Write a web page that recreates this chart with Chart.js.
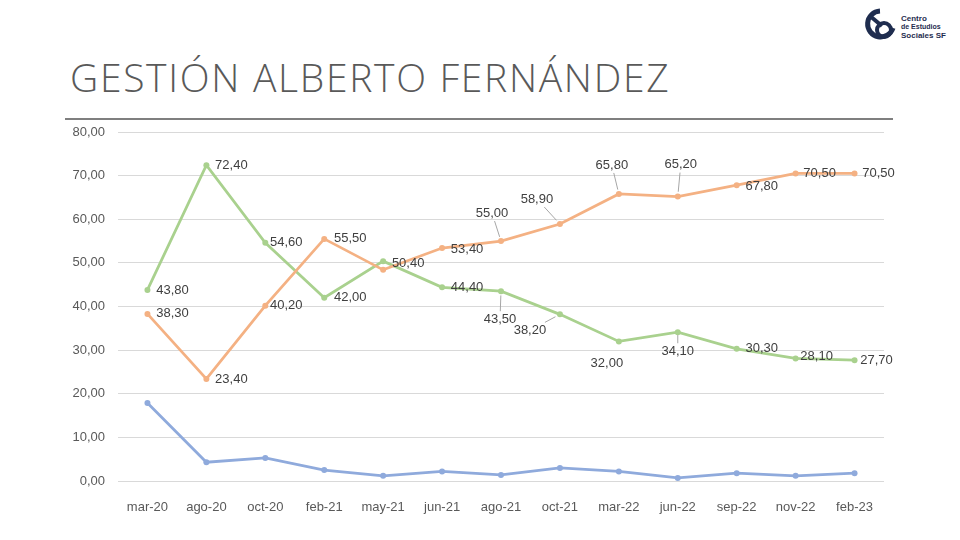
<!DOCTYPE html>
<html>
<head>
<meta charset="utf-8">
<script src="https://cdn.jsdelivr.net/npm/chart.js@4"></script>
<style>
  body{margin:0;background:#fff;width:960px;height:540px;overflow:hidden;position:relative;font-family:"Liberation Sans",sans-serif}
  #titulo{position:absolute;left:70px;top:50px;font-family:"Open Sans",sans-serif;font-weight:300;font-size:39px;color:#595959;letter-spacing:1.7px;white-space:nowrap}
  #linea{position:absolute;left:65px;top:118px;width:828px;height:2px;background:#7f7f7f}
  #logo{position:absolute;left:864px;top:8px}
  #wrap{position:absolute;left:0;top:0;width:960px;height:540px}
</style>
</head>
<body>
<div id="titulo">GESTIÓN ALBERTO FERNÁNDEZ</div>
<div id="linea"></div>
<svg id="logo" width="90" height="38" viewBox="0 0 90 38">
  <path d="M16 3 A13 13 0 1 0 29 20" fill="none" stroke="#1f2d4f" stroke-width="5"/>
  <path d="M6 8 L18 18" stroke="#1f2d4f" stroke-width="4"/>
  <circle cx="20" cy="22" r="7" fill="none" stroke="#1f2d4f" stroke-width="4"/>
  <text x="37" y="13" font-size="8" font-weight="bold" fill="#1f2d4f" font-family="Liberation Sans">Centro</text>
  <text x="37" y="21" font-size="7" font-weight="bold" fill="#1f2d4f" font-family="Liberation Sans">de Estudios</text>
  <text x="37" y="30" font-size="8" font-weight="bold" fill="#1f2d4f" font-family="Liberation Sans">Sociales SF</text>
</svg>
<div id="wrap"><canvas id="grafico"></canvas></div>
<script>
// datos
const meses = ['mar-20','ago-20','oct-20','feb-21','may-21','jun-21','ago-21','oct-21','mar-22','jun-22','sep-22','nov-22','feb-23']
const serieVerde = [43.8,72.4,54.6,42.0,50.4,44.4,43.5,38.2,32.0,34.1,30.3,28.1,27.7]
const serieNaranja = [38.3,23.4,40.2,55.5,48.4,53.4,55.0,58.9,65.8,65.2,67.8,70.5,70.5]
const serieAzul = [17.9,4.3,5.3,2.5,1.2,2.2,1.4,3.0,2.2,0.7,1.8,1.2,1.8]
const ticksY = [0,10,20,30,40,50,60,70,80]

// posicion de las etiquetas [dx, dy, lineaGuia] relativa al punto
const posVerde = [[25,0],[25,0],[21,0],[26,0],[25,2],[25,0],[-1,28,1],[-30,16,1],[-12,22],[0,19,1],[25,0],[21,-2],[22,0]]
const posNaranja = [[25,0],[25,1],[21,0],[26,0],null,[25,1],[-9,-28,1],[-23,-25,1],[-7,-29,1],[3,-32,1],[25,1],[24,0],[24,0]]

const fmt = v => v.toFixed(2).replace('.', ',')

// plugin para dibujar las etiquetas de datos
const etiquetas = {
  id:'etiquetas',
  afterDatasetsDraw(chart){
    const ctx = chart.ctx
    ctx.save()
    ctx.font = '13px "Liberation Sans"'
    ctx.textAlign = 'center'
    ctx.textBaseline = 'middle'
    chart.data.datasets.forEach((ds, i) => {
      if(!ds.pos) return
      const meta = chart.getDatasetMeta(i)
      meta.data.forEach((pt, j) => {
        const p = ds.pos[j]
        if(!p) return
        const lx = pt.x + p[0], ly = pt.y + p[1]
        if(p[2]){
          // linea guia hasta el borde del texto
          const hw = 18, hh = 8
          const dx = lx - pt.x, dy = ly - pt.y
          const kk = Math.max(Math.abs(dx) > hw ? 1 - hw/Math.abs(dx) : 0, Math.abs(dy) > hh ? 1 - hh/Math.abs(dy) : 0)
          ctx.strokeStyle = '#a6a6a6'
          ctx.lineWidth = 1
          ctx.beginPath()
          ctx.moveTo(pt.x + dx*0.15, pt.y + dy*0.15)
          ctx.lineTo(pt.x + dx*kk, pt.y + dy*kk)
          ctx.stroke()
        }
        ctx.fillStyle = '#404040'
        ctx.fillText(fmt(ds.data[j]), lx, ly)
      })
    })
    ctx.restore()
  }
}

function serie(datos, color, pos){
  return {
    data:datos,
    borderColor:color,
    backgroundColor:color,
    borderWidth:2.75,
    pointRadius:3,
    pointBorderWidth:0,
    pointBackgroundColor:color,
    tension:0,
    pos:pos
  }
}

const chart = new Chart(document.getElementById('grafico'), {
  type:'line',
  data:{
    labels:meses,
    datasets:[
      serie(serieAzul, '#8faadc', null),
      serie(serieNaranja, '#f4b183', posNaranja),
      serie(serieVerde, '#a9d18e', posVerde)
    ]
  },
  options:{
    responsive:true,
    maintainAspectRatio:false,
    animation:false,
    layout:{padding:{top:132, right:76, left:0, bottom:0}},
    plugins:{legend:{display:false}, tooltip:{enabled:false}},
    scales:{
      x:{
        offset:true,
        grid:{display:false},
        border:{display:false},
        ticks:{color:'#595959', font:{family:'Liberation Sans', size:13}, padding:11, maxRotation:0, autoSkip:false},
        afterFit(axis){ axis.height = 59 }
      },
      y:{
        min:0, max:80,
        afterBuildTicks(axis){ axis.ticks = ticksY.map(v => ({value:v})) },
        grid:{color:'#d9d9d9', lineWidth:1, drawTicks:false},
        border:{display:false},
        ticks:{color:'#595959', font:{family:'Liberation Sans', size:13}, padding:13, callback:v => fmt(v)},
        afterFit(axis){ axis.width = 118 }
      }
    }
  },
  plugins:[etiquetas]
})
</script>
</body>
</html>
